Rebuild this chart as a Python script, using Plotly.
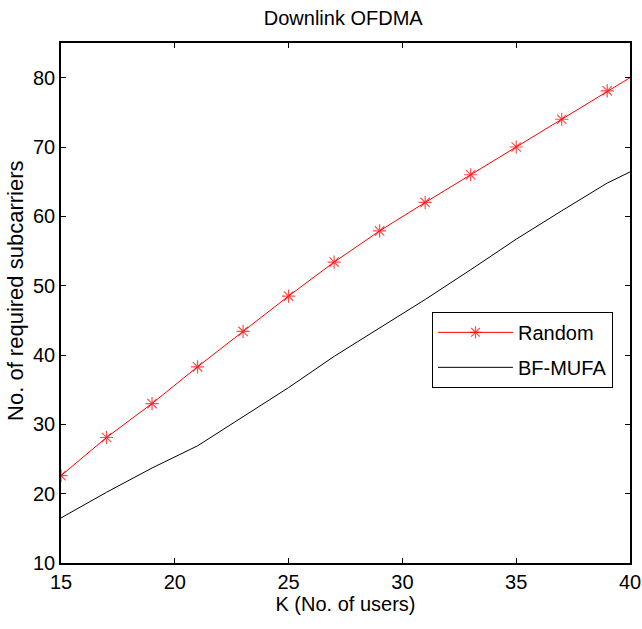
import plotly.graph_objects as go

k_users = [15, 17, 19, 21, 23, 25, 27, 29, 31, 33, 35, 37, 39, 40]
random_vals = [22.6, 28.1, 33.0, 38.3, 43.4, 48.5, 53.4, 57.9, 62.0, 66.0, 70.0, 74.0, 78.1, 80.0]
bfmufa_vals = [16.5, 20.2, 23.7, 26.9, 31.1, 35.3, 39.8, 43.9, 48.0, 52.3, 56.7, 60.8, 64.8, 66.4]
x_ticks = [15, 20, 25, 30, 35, 40]
y_ticks = [10, 20, 30, 40, 50, 60, 70, 80]

FONT = "Liberation Sans, Arial, sans-serif"

marker_sizes = [11] * (len(k_users) - 1) + [0]

fig = go.Figure()
fig.add_trace(go.Scatter(
    x=k_users, y=random_vals, name="Random", mode="lines+markers",
    legendgroup="g1",
    line=dict(color="#ff0000", width=1),
    marker=dict(symbol="asterisk-open", size=marker_sizes, color="#ff0000",
                line=dict(color="#ff0000", width=1.2)),
))
fig.add_trace(go.Scatter(
    x=k_users, y=bfmufa_vals, name="BF-MUFA", mode="lines",
    legendgroup="g2",
    line=dict(color="#000000", width=1),
))

axis_common = dict(
    showline=True, linecolor="black", linewidth=1.5, mirror="ticks",
    ticks="inside", ticklen=5, tickcolor="black", tickwidth=1,
    showgrid=False, zeroline=False, automargin=False,
    tickfont=dict(family=FONT, size=20, color="black"),
)

fig.update_layout(
    width=642, height=629,
    paper_bgcolor="white", plot_bgcolor="white",
    margin=dict(l=61, r=12, t=43, b=66),
    title=dict(text="Downlink OFDMA", xref="paper", x=0.496, xanchor="center",
               y=0.971, yanchor="middle",
               font=dict(family=FONT, size=20, color="black")),
    xaxis=dict(range=[15, 40], tickvals=x_ticks,
               title=dict(text="K (No. of users)", standoff=5,
                          font=dict(family=FONT, size=20, color="black")),
               **axis_common),
    yaxis=dict(range=[10, 85], tickvals=y_ticks, **axis_common),
    legend=dict(x=0.652, y=0.483, xanchor="left", yanchor="top",
                bgcolor="white", bordercolor="black", borderwidth=1,
                font=dict(family=FONT, size=20, color="black"),
                traceorder="grouped", tracegroupgap=6,
                itemwidth=75),
    showlegend=True,
    annotations=[dict(text="No. of required subcarriers", xref="paper", yref="paper",
                      x=-0.081, y=0.523, xanchor="center", yanchor="middle",
                      textangle=-90, showarrow=False,
                      font=dict(family=FONT, size=22, color="black"))],
)

fig.write_html("out.html", config={"displayModeBar": False},
               post_script="document.body.style.margin='0';")
